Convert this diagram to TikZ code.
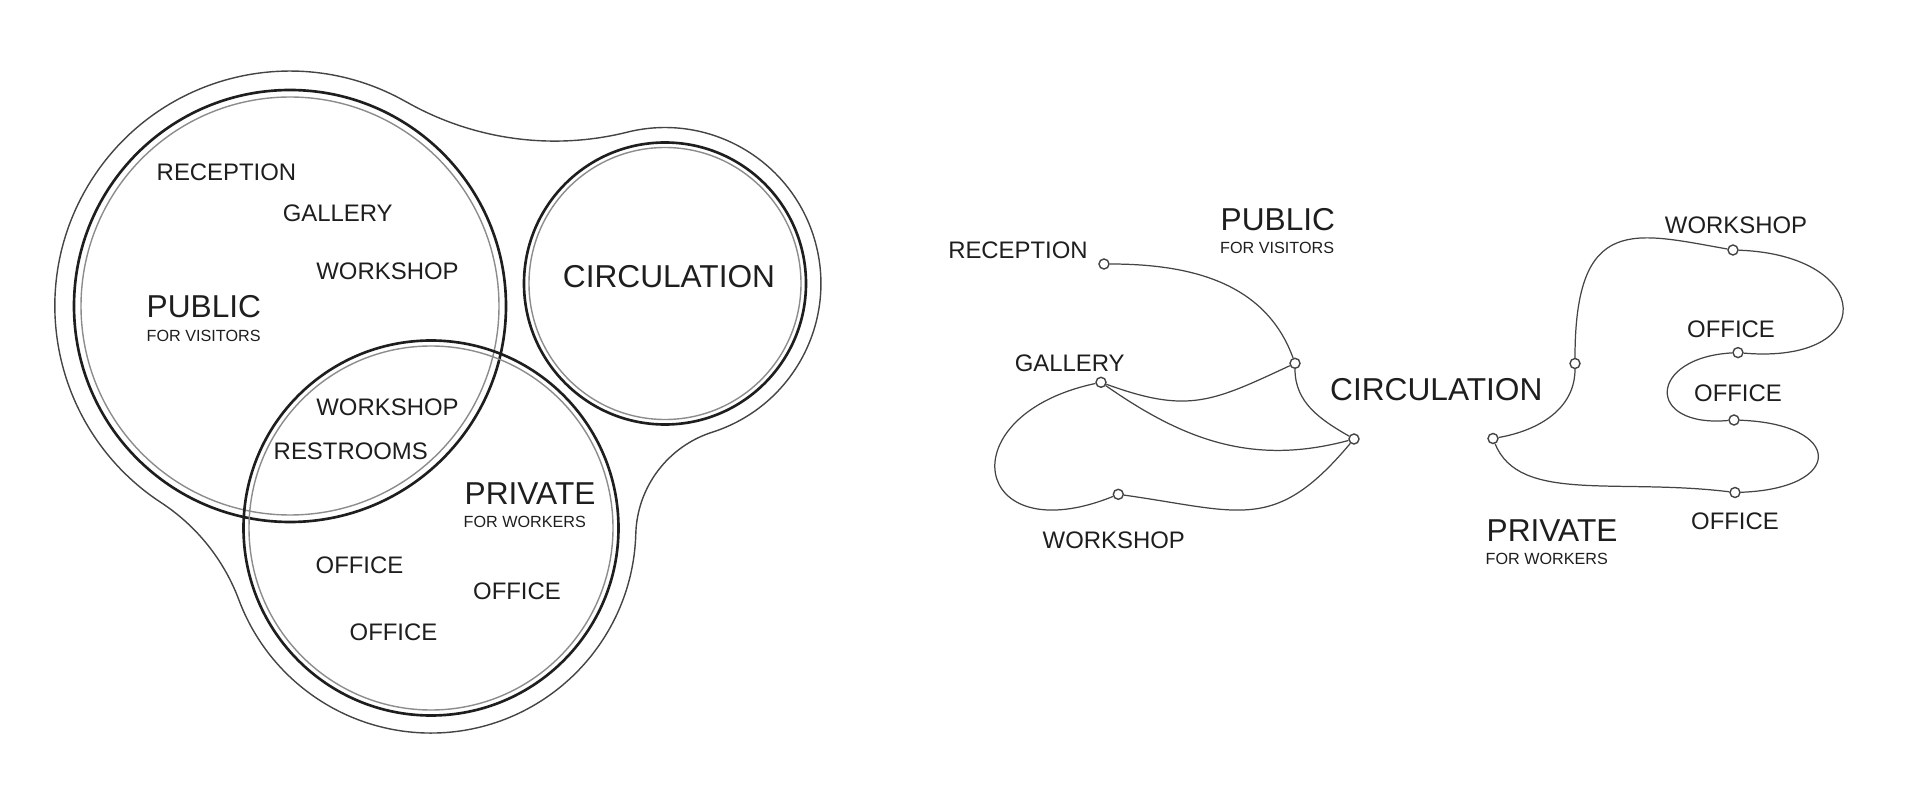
\documentclass[tikz,border=0pt]{standalone}
\usepackage{fontspec}
\setmainfont{Liberation Sans}
\definecolor{ink}{HTML}{1E1E1E}
\definecolor{pencil}{HTML}{444444}
\definecolor{faint}{HTML}{8C8C8C}
\tikzset{
  room/.style={font=\fontsize{6.8}{8}\selectfont, text=ink, inner sep=0pt},
  zone/.style={font=\fontsize{9}{11}\selectfont, text=ink, inner sep=0pt},
  zonenote/.style={font=\fontsize{4.6}{6}\selectfont, text=ink, inner sep=0pt},
  ring/.style={draw=ink, line width=0.75pt},
  ringin/.style={draw=faint, line width=0.4pt},
  hull/.style={draw=pencil, line width=0.4pt},
  link/.style={draw=pencil, line width=0.35pt},
  spot/.style={circle, draw=pencil, fill=white, line width=0.4pt, inner sep=0pt, minimum size=1mm},
}
\begin{document}
\begin{tikzpicture}[x=0.01cm, y=0.01cm]
        \useasboundingbox (0,0) rectangle (1920,-794);
        \draw [hull] (406.2,-101.8) arc [start angle=240.35, end angle=284, radius=300]
            arc [start angle=104, end angle=-72.3, radius=156]
            arc [start angle=107.68, end angle=178.38, radius=110]
            arc [start angle=-1.62, end angle=-159.5, radius=205]
            arc [start angle=20.52, end angle=56.77, radius=200]
            arc [start angle=236.8, end angle=60.36, radius=235] -- cycle;
        \draw [ring] (290,-306) circle [radius=216];
        \draw [ringin] (290,-306) circle [radius=209];
        \draw [ring] (431,-528) circle [radius=187.5];
        \draw [ringin] (431,-528) circle [radius=182];
        \draw [ring] (665,-283.5) circle [radius=141];
        \draw [ringin] (665,-283.5) circle [radius=136];
        \node (vrec) [room] at (226.5,-172) {RECEPTION};
        \node (vgal) [room] at (337.7,-212.8) {GALLERY};
        \node (vwsp) [room] at (387.5,-271.3) {WORKSHOP};
        \node (vpub) [zone, anchor=west] at (146,-306.7) {PUBLIC};
        \node (vvis) [zonenote, anchor=west] at (146,-335.5) {FOR VISITORS};
        \node (vwsp2) [room] at (387.5,-407) {WORKSHOP};
        \node (vrest) [room] at (350.8,-451.5) {RESTROOMS};
        \node (vpriv) [zone, anchor=west] at (464,-493.5) {PRIVATE};
        \node (vwork) [zonenote, anchor=west] at (463,-522) {FOR WORKERS};
        \node (voff1) [room] at (359.5,-565) {OFFICE};
        \node (voff2) [room] at (517,-591) {OFFICE};
        \node (voff3) [room] at (393.5,-632.5) {OFFICE};
        \node (vcirc) [zone] at (669,-276.7) {CIRCULATION};
        % public side
        \node (rec) [spot] at (1104,-264) {};
        \node (gal) [spot] at (1101,-382.3) {};
        \node (wsp) [spot] at (1118.3,-494.3) {};
        \node (pj) [spot] at (1295,-363.3) {};
        \node (cj) [spot] at (1354,-439) {};
        \node (trec) [room] at (1018,-250) {RECEPTION};
        \node (tgal) [room] at (1069.7,-363.3) {GALLERY};
        \node (twsp) [room] at (1113.8,-540) {WORKSHOP};
        \node (tpub) [zone, anchor=west] at (1220,-220) {PUBLIC};
        \node (tvis) [zonenote, anchor=west] at (1219.5,-247.5) {FOR VISITORS};
        \node (tcirc) [zone] at (1436.3,-389.4) {CIRCULATION};
        \draw [link] (rec) to [out=0, in=110] (pj);
        \draw [link] (pj) to [out=-90, in=150] (cj);
        \draw [link] (gal) to [out=-20, in=205, looseness=1.2] (pj);
        \draw [link] (gal) to [out=-35, in=195] (cj);
        \draw [link] (gal) .. controls +(192:158) and +(202:158) .. (wsp);
        \draw [link] (wsp) to [out=-8, in=230, looseness=1.3] (cj);
        % private side
        \node (prq) [spot] at (1493,-438.5) {};
        \node (prj) [spot] at (1575,-363.5) {};
        \node (pwsp) [spot] at (1733,-250) {};
        \node (off1) [spot] at (1738,-352.6) {};
        \node (off2) [spot] at (1734,-420) {};
        \node (off3) [spot] at (1735,-492.5) {};
        \node (tpwsp) [room] at (1736,-225) {WORKSHOP};
        \node (toff1) [room] at (1731,-329) {OFFICE};
        \node (toff2) [room] at (1738,-393) {OFFICE};
        \node (toff3) [room] at (1735,-521.6) {OFFICE};
        \node (tpriv) [zone, anchor=west] at (1486,-530.5) {PRIVATE};
        \node (twork) [zonenote, anchor=west] at (1485,-558.7) {FOR WORKERS};
        \draw [link] (prq) to [out=10, in=-90] (prj);
        \draw [link] (prj) .. controls +(90:150) and +(170:100) .. (pwsp);
        \draw [link] (pwsp) .. controls +(-2:142) and +(-5:142) .. (off1);
        \draw [link] (off1) .. controls +(183:90) and +(185:90) .. (off2);
        \draw [link] (off2) .. controls +(-2:110) and +(2:110) .. (off3);
        \draw [link] (off3) .. controls +(173:120) and +(-68:70) .. (prq);
\end{tikzpicture}
\end{document}
